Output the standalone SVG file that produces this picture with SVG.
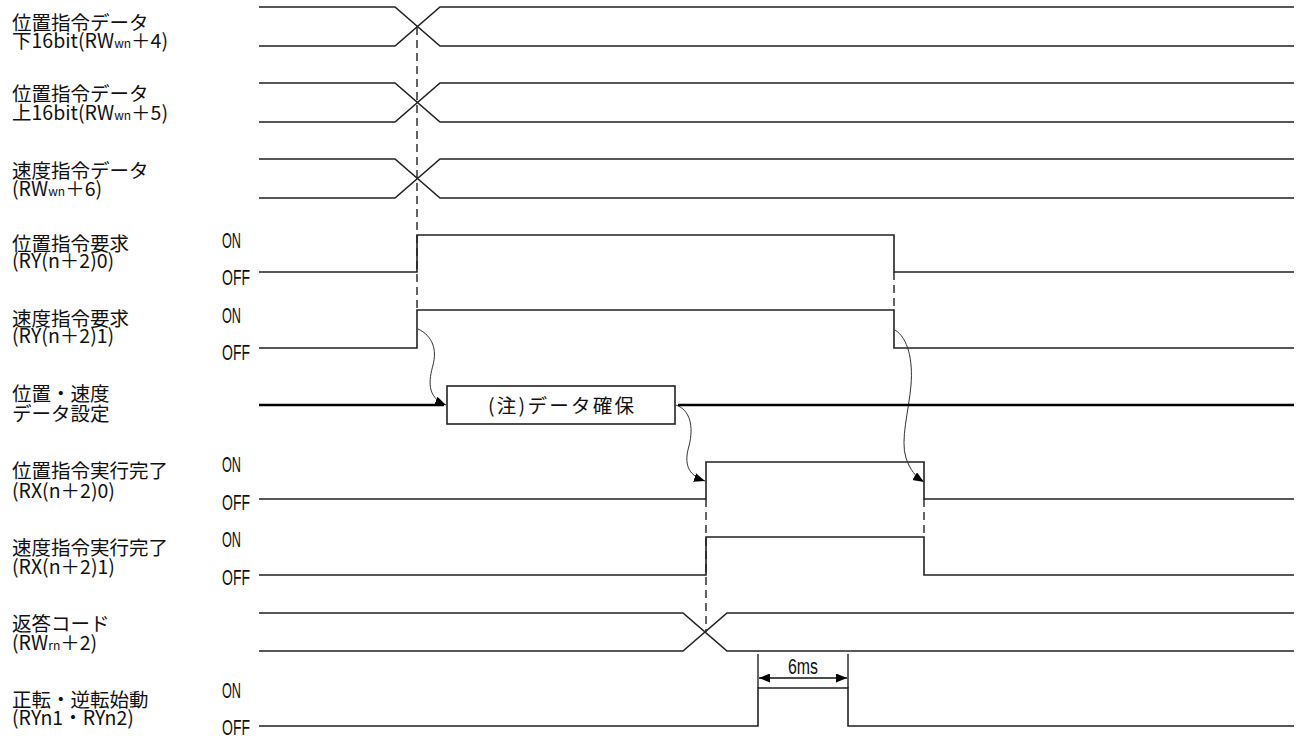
<svg xmlns="http://www.w3.org/2000/svg" width="1296" height="738" viewBox="0 0 1296 738">
<style>
.lbl{font-family:"Noto Sans CJK JP","Noto Sans",sans-serif;font-size:19.5px;fill:#111}
.sub{font-size:12px}
.oo{font-family:"Liberation Sans",Arial,sans-serif;font-size:22px;fill:#111}
.sig{fill:none;stroke:#222;stroke-width:1.6}
.thick{fill:none;stroke:#000;stroke-width:2.6}
.dash{fill:none;stroke:#111;stroke-width:1.3;stroke-dasharray:8 5}
.curve{fill:none;stroke:#333;stroke-width:1}
.dim{fill:none;stroke:#111;stroke-width:1.3}
</style>
<defs>
<marker id="ah" markerUnits="userSpaceOnUse" markerWidth="12" markerHeight="10" refX="11" refY="4.5" orient="auto">
<path d="M0,0 L11,4.5 L0,9 Z" fill="#000"/>
</marker>
<marker id="ahs" markerUnits="userSpaceOnUse" markerWidth="12" markerHeight="10" refX="0" refY="4.5" orient="auto">
<path d="M11,0 L0,4.5 L11,9 Z" fill="#000"/>
</marker>
</defs>
<rect width="1296" height="738" fill="#fff"/>

<g id="connectors">
<path class="dash" d="M417,27 V310"/>
<path class="dash" d="M894,272 V310"/>
<path class="dash" d="M924,499 V537"/>
<path class="dash" d="M706,499 V632"/>
<path class="curve" marker-end="url(#ah)" d="M418,329 C433,336 437,350 433,365 C429,380 426,397 446,405"/>
<path class="curve" marker-end="url(#ah)" d="M676,405 C690,410 694,426 689,446 C684,463 687,475 705,481"/>
<path class="curve" marker-end="url(#ah)" d="M895,330 C908,338 913,360 911,385 C909,410 900,440 906,458 C910,470 916,477 924,482"/>
</g>

<g id="row1">
<text class="lbl" x="12" y="30">位置指令データ</text>
<text class="lbl" x="12" y="48">下16bit(RW<tspan class="sub">wn</tspan>＋4)</text>
<path class="sig" d="M259,7 H395 L440,46 H1294 M259,46 H395 L440,7 H1294"/>
</g>
<g id="row2">
<text class="lbl" x="12" y="101">位置指令データ</text>
<text class="lbl" x="12" y="120">上16bit(RW<tspan class="sub">wn</tspan>＋5)</text>
<path class="sig" d="M259,83 H395 L440,122 H1294 M259,122 H395 L440,83 H1294"/>
</g>
<g id="row3">
<text class="lbl" x="12" y="178">速度指令データ</text>
<text class="lbl" x="12" y="196">(RW<tspan class="sub">wn</tspan>＋6)</text>
<path class="sig" d="M259,159 H395 L440,198 H1294 M259,198 H395 L440,159 H1294"/>
</g>
<g id="row4">
<text class="lbl" x="12" y="251">位置指令要求</text>
<text class="lbl" x="12" y="268">(RY(n＋2)0)</text>
<text class="oo" x="222" y="248" textLength="19" lengthAdjust="spacingAndGlyphs">ON</text>
<text class="oo" x="222" y="285" textLength="28" lengthAdjust="spacingAndGlyphs">OFF</text>
<path class="sig" d="M259,272 H417 V235 H894 V272 H1294"/>
</g>
<g id="row5">
<text class="lbl" x="12" y="326">速度指令要求</text>
<text class="lbl" x="12" y="343">(RY(n＋2)1)</text>
<text class="oo" x="222" y="323" textLength="19" lengthAdjust="spacingAndGlyphs">ON</text>
<text class="oo" x="222" y="360" textLength="28" lengthAdjust="spacingAndGlyphs">OFF</text>
<path class="sig" d="M259,348 H417 V310 H894 V348 H1294"/>
</g>
<g id="row6">
<text class="lbl" x="12" y="401">位置・速度</text>
<text class="lbl" x="12" y="421">データ設定</text>
<path class="thick" d="M259,405 H444 M678,405 H1294"/>
<rect x="447" y="386" width="228" height="38" fill="#fff" stroke="#222" stroke-width="1.6"/>
<text class="lbl" x="561" y="413" text-anchor="middle" textLength="146" lengthAdjust="spacing">(注)データ確保</text>
</g>
<g id="row7">
<text class="lbl" x="12" y="478">位置指令実行完了</text>
<text class="lbl" x="12" y="498">(RX(n＋2)0)</text>
<text class="oo" x="222" y="472" textLength="19" lengthAdjust="spacingAndGlyphs">ON</text>
<text class="oo" x="222" y="510" textLength="28" lengthAdjust="spacingAndGlyphs">OFF</text>
<path class="sig" d="M259,499 H706 V462 H924 V499 H1294"/>
</g>
<g id="row8">
<text class="lbl" x="12" y="555">速度指令実行完了</text>
<text class="lbl" x="12" y="574">(RX(n＋2)1)</text>
<text class="oo" x="222" y="547" textLength="19" lengthAdjust="spacingAndGlyphs">ON</text>
<text class="oo" x="222" y="585" textLength="28" lengthAdjust="spacingAndGlyphs">OFF</text>
<path class="sig" d="M259,575 H706 V537 H924 V575 H1294"/>
</g>
<g id="row9">
<text class="lbl" x="12" y="631">返答コード</text>
<text class="lbl" x="12" y="650">(RW<tspan class="sub">rn</tspan>＋2)</text>
<path class="sig" d="M259,613 H683 L727,651 H1294 M259,651 H683 L727,613 H1294"/>
</g>
<g id="row10">
<text class="lbl" x="12" y="707">正転・逆転始動</text>
<text class="lbl" x="12" y="725">(RYn1・RYn2)</text>
<text class="oo" x="222" y="698" textLength="19" lengthAdjust="spacingAndGlyphs">ON</text>
<text class="oo" x="222" y="735" textLength="28" lengthAdjust="spacingAndGlyphs">OFF</text>
<path class="sig" d="M259,726 H758 V688 H848 V726 H1294"/>
</g>
<g id="dim6ms">
<path class="dim" d="M758,654 V688 M848,654 V688"/>
<path class="dim" marker-start="url(#ahs)" marker-end="url(#ah)" d="M759,678 H847"/>
<text class="oo" x="788" y="674" textLength="30" lengthAdjust="spacingAndGlyphs">6ms</text>
</g>
</svg>
